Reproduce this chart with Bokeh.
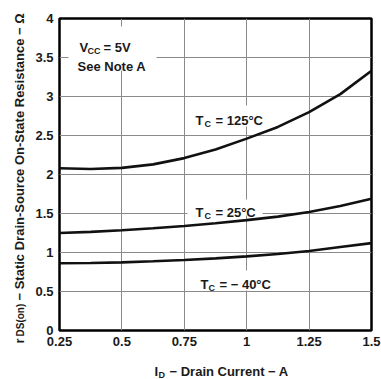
import math
from bokeh.plotting import figure
from bokeh.models import Label, BoxAnnotation, FixedTicker, Range1d
from bokeh.layouts import row, column
from bokeh.embed import file_html
from bokeh.resources import INLINE

# ---- data ----
drain_current = [0.25, 0.375, 0.5, 0.625, 0.75, 0.875, 1.0, 1.125, 1.25, 1.375, 1.5]
r_tc_125 = [2.08, 2.07, 2.085, 2.13, 2.21, 2.32, 2.46, 2.61, 2.80, 3.03, 3.33]
r_tc_25 = [1.25, 1.265, 1.285, 1.31, 1.34, 1.375, 1.415, 1.46, 1.52, 1.595, 1.69]
r_tc_m40 = [0.863, 0.866, 0.874, 0.887, 0.904, 0.925, 0.95, 0.98, 1.02, 1.07, 1.12]

x_ticks = [0.25, 0.5, 0.75, 1.0, 1.25, 1.5]
x_tick_labels = ["0.25", "0.5", "0.75", "1", "1.25", "1.5"]
y_ticks = [0, 0.5, 1, 1.5, 2, 2.5, 3, 3.5, 4]
y_tick_labels = ["0", "0.5", "1", "1.5", "2", "2.5", "3", "3.5", "4"]

FONT = "Liberation Sans"
COL = "#1a1a1a"
W, H = 381, 379
FL, FR, FT, FB = 59, 371, 18, 330   # frame edges (page pixels)
YW = 28                              # width of the y-title strip
MH = 354                             # height of the main figure

p = figure(width=W - YW, height=MH, output_backend="svg", toolbar_location=None,
           x_range=Range1d(0.25, 1.5), y_range=Range1d(0, 4),
           min_border_left=FL - YW, min_border_right=W - FR,
           min_border_top=FT, min_border_bottom=MH - FB)
p.background_fill_color = "white"
p.border_fill_color = "white"
p.outline_line_color = "black"
p.outline_line_width = 2.5

for ax, ticks, labels in ((p.xaxis[0], x_ticks, x_tick_labels), (p.yaxis[0], y_ticks, y_tick_labels)):
    ax.ticker = FixedTicker(ticks=ticks)
    ax.major_label_overrides = {t: l for t, l in zip(ticks, labels)}
    ax.axis_line_color = None
    ax.major_tick_line_color = None
    ax.minor_tick_line_color = None
    ax.major_tick_in = 0
    ax.major_tick_out = 0
    ax.major_label_text_font = FONT
    ax.major_label_text_font_style = "bold"
    ax.major_label_text_font_size = "13px"
    ax.major_label_text_color = COL
p.xaxis.major_label_standoff = 6
p.yaxis.major_label_standoff = 6

p.xgrid.ticker = FixedTicker(ticks=x_ticks)
p.ygrid.ticker = FixedTicker(ticks=y_ticks)
p.grid.grid_line_color = "#8a8a8a"
p.grid.grid_line_width = 1

for ys in (r_tc_125, r_tc_25, r_tc_m40):
    p.line(drain_current, ys, line_color="#111111", line_width=2.6)


def dx(px):
    return 0.25 + (px - FL) / (FR - FL) * 1.25


def dy(py):
    return (FB - py) / (FB - FT) * 4.0


# white boxes behind the in-plot texts (they break the grid lines)
for l, r, t, b in ((68, 156, 26, 70), (190, 265, 105, 126), (187, 262, 199, 215), (195, 274, 270, 290)):
    p.add_layout(BoxAnnotation(left=dx(l), right=dx(r), top=dy(t), bottom=dy(b),
                               fill_color="white", fill_alpha=1.0, line_color=None))


def add_label(fig, txt, x, y, sz, angle=0.0):
    fig.add_layout(Label(x=x, y=y, text=txt, angle=angle, text_font=FONT, text_font_style="bold",
                         text_font_size=f"{sz}px", text_color=COL,
                         text_align="left", text_baseline="alphabetic"))


# in-plot text pieces: (text, x px, baseline px, size)
pieces = [
    ("V", 79, 47, 13), ("CC", 87, 50, 9), ("= 5V", 103, 47, 13),
    ("See Note A", 77, 66, 13),
    ("T", 195, 120, 13), ("C", 204, 123, 9), ("= 125°C", 215, 120, 13),
    ("T", 195, 212, 13), ("C", 204, 215, 9), ("= 25°C", 215, 212, 13),
    ("T", 200, 284, 13), ("C", 208, 287, 9), ("= − 40°C", 219, 284, 13),
]
for txt, px, py, sz in pieces:
    add_label(p, txt, dx(px), dy(py), sz)


def strip(w, h, xr, yr):
    f = figure(width=w, height=h, output_backend="svg", toolbar_location=None,
               x_range=Range1d(*xr), y_range=Range1d(*yr),
               x_axis_location=None, y_axis_location=None,
               min_border=0, min_border_left=0, min_border_right=0,
               min_border_top=0, min_border_bottom=0, outline_line_color=None)
    f.grid.visible = False
    f.background_fill_color = "white"
    f.border_fill_color = "white"
    return f


# y-axis title strip (rotated text, page coords)
ys_ = strip(YW, H, (0, YW), (H, 0))
for txt, px, py, sz in (("r", 19, 343, 13), ("DS(on)", 20, 336, 10),
                        ("− Static Drain-Source On-State Resistance − Ω", 19, 300, 13)):
    add_label(ys_, txt, px, py, sz, angle=math.pi / 2)

# x-axis title strip; its frame is aligned with the main frame (page x FL..FR)
xs = strip(W - YW, H - MH, (FL, FR), (H, MH))
for txt, px, py, sz in (("I", 154, 371, 13), ("D", 158, 374, 9), ("− Drain Current − A", 169, 371, 13)):
    add_label(xs, txt, px, py, sz)

layout = row(ys_, column(p, xs))
open("out.html", "w").write(file_html(layout, INLINE))
